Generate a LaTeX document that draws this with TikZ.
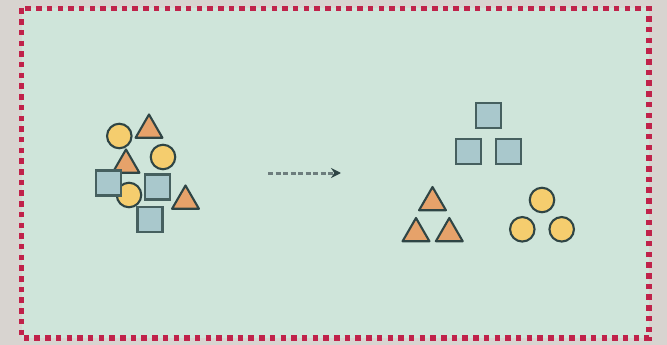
\documentclass[tikz,border=0pt]{standalone}
\usetikzlibrary{shapes.geometric,arrows.meta}
\definecolor{outerbg}{HTML}{D8D4D0}
\definecolor{panel}{HTML}{CFE5DA}
\definecolor{frame}{HTML}{C0224A}
\definecolor{ink}{HTML}{2F4545}
\definecolor{sqink}{HTML}{46605F}
\definecolor{sqfill}{HTML}{A9C8CC}
\definecolor{cifill}{HTML}{F5CD6E}
\definecolor{trfill}{HTML}{E6A26A}
\tikzset{
  token/.style={draw=ink, line width=2.1pt, inner sep=0pt, outer sep=0pt},
  sq/.style={token, draw=sqink, rectangle, fill=sqfill, minimum size=25pt},
  ci/.style={token, circle, fill=cifill, minimum size=24.5pt},
  tri/.style={token, regular polygon, regular polygon sides=3, fill=trfill, minimum size=31pt, line join=round},
  flow/.style={draw=ink!70, line width=3pt, dash pattern=on 5pt off 2.5pt,
    -{Stealth[length=10pt,width=10pt,color=ink,fill=ink]}}
}
\begin{document}
\begin{tikzpicture}[x=1pt,y=-1pt]
  % canvas and framed panel
  \fill[outerbg] (0,0) rectangle (667,345);
  \useasboundingbox (0,0) rectangle (667,345);
  \fill[panel] (21.5,8.5) rectangle (649,338);
  \draw[frame, line width=5.5pt, dash pattern=on 5.5pt off 5.2pt] (21.5,8.5) rectangle (649,338);

  % mixed group
  \node[ci]  (c1) at (119.3,136) {};
  \node[tri] (t1) at (149,130) {};
  \node[ci]  (c2) at (163,157) {};
  \node[tri] (t2) at (126,165) {};
  \node[ci]  (c3) at (129,195) {};
  \node[sq]  (s1) at (108.7,183) {};
  \node[sq]  (s2) at (157.5,187) {};
  \node[tri] (t3) at (185.5,201) {};
  \node[sq]  (s3) at (150,219.7) {};

  % arrow between the groups
  \coordinate (from) at (268,173);
  \coordinate (to) at (341,173);
  \draw[flow] (from) -- (to);

  % sorted groups
  \node[sq] (q1) at (488.7,115.7) {};
  \node[sq] (q2) at (468.8,151.2) {};
  \node[sq] (q3) at (508.7,151.2) {};

  \node[tri] (r1) at (432.5,202.5) {};
  \node[tri] (r2) at (416,233.5) {};
  \node[tri] (r3) at (449.3,233.5) {};

  \node[ci] (o1) at (542,200) {};
  \node[ci] (o2) at (522.3,229.3) {};
  \node[ci] (o3) at (561.7,229.3) {};
\end{tikzpicture}
\end{document}
